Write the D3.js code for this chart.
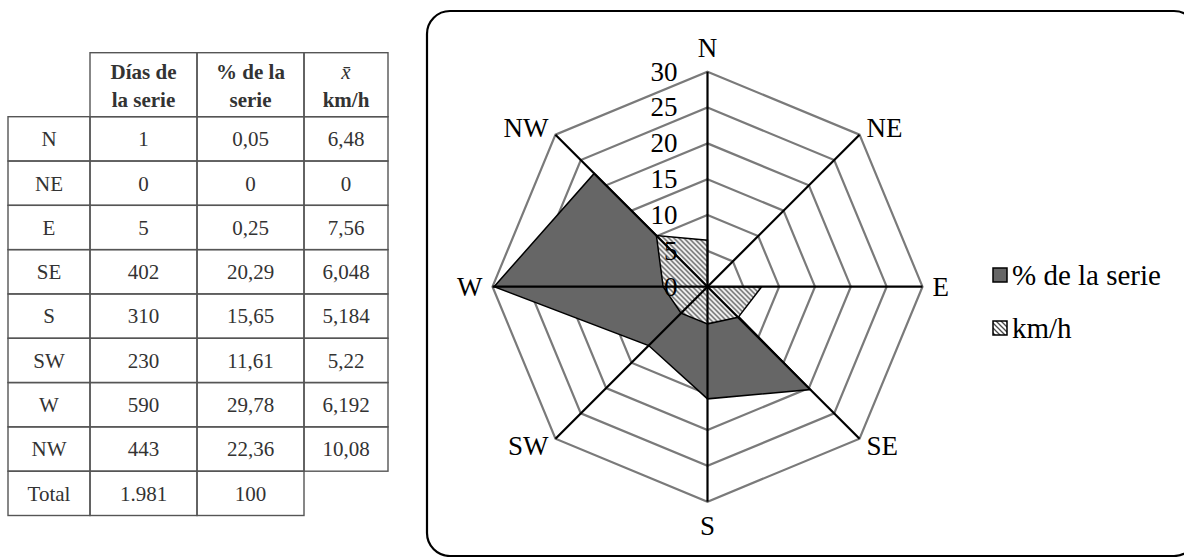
<!DOCTYPE html>
<html>
<head>
<meta charset="utf-8">
<script src="https://cdn.jsdelivr.net/npm/d3@7"></script>
<style>
  body { margin: 0; background: #fff; }
  svg { display: block; }
  text { font-family: "Liberation Serif", "Times New Roman", serif; }
</style>
</head>
<body>
<div id="chart"></div>
<script>
//////////////////////////////////////////////////////////////////////////////
// Data

var directions = ["N", "NE", "E", "SE", "S", "SW", "W", "NW"];
var dias       = [1, 0, 5, 402, 310, 230, 590, 443];
var pctSerie   = [0.05, 0, 0.25, 20.29, 15.65, 11.61, 29.78, 22.36];
var kmh        = [6.48, 0, 7.56, 6.048, 5.184, 5.22, 6.192, 10.08];
var totalRow   = ["Total", "1.981", "100"];
var radialTicks  = [0, 5, 10, 15, 20, 25, 30];
var legendLabels = ["% de la serie", "km/h"];

//////////////////////////////////////////////////////////////////////////////
// Preliminaries

var width = 1184, height = 557;

var svg = d3.select("#chart")
    .append("svg")
    .attr("width", width)
    .attr("height", height);

var defs = svg.append("defs");

defs.append("pattern")
    .attr("id", "hatch")
    .attr("width", 5).attr("height", 5)
    .attr("patternUnits", "userSpaceOnUse")
    .call(function(p) {
        p.append("rect").attr("width", 5).attr("height", 5).attr("fill", "#fff");
        p.append("path")
            .attr("d", "M-1,-1L6,6M4,-1L6,1M-1,4L1,6")
            .attr("stroke", "#4a4a4a")
            .attr("stroke-width", 1.3);
    });

function fmtNum(v) { return String(v).replace(".", ","); }

//////////////////////////////////////////////////////////////////////////////
// Table

var colX = [8, 90, 197, 304, 388];
var headTop = 52.7, headBottom = 116.7, tableBottom = 515.5;

var rowScale = d3.scaleBand()
    .domain(directions.concat(["Total"]))
    .range([headBottom, tableBottom]);

var table = svg.append("g")
    .attr("font-size", 21)
    .attr("fill", "#333");

var cells = [];
[1, 2, 3].forEach(function(c) {
    cells.push({ c: c, y0: headTop, y1: headBottom });
});
directions.forEach(function(d) {
    [0, 1, 2, 3].forEach(function(c) {
        cells.push({ c: c, y0: rowScale(d), y1: rowScale(d) + rowScale.bandwidth() });
    });
});
[0, 1, 2].forEach(function(c) {
    cells.push({ c: c, y0: rowScale("Total"), y1: rowScale("Total") + rowScale.bandwidth() });
});

table.append("g")
    .selectAll("rect")
    .data(cells)
    .enter()
    .append("rect")
    .attr("x", function(d) { return colX[d.c]; })
    .attr("y", function(d) { return d.y0; })
    .attr("width", function(d) { return colX[d.c + 1] - colX[d.c]; })
    .attr("height", function(d) { return d.y1 - d.y0; })
    .attr("fill", "none")
    .attr("stroke", "#555")
    .attr("stroke-width", 1.4);

function colMid(c) { return (colX[c] + colX[c + 1]) / 2; }

// header
var headers = [["Días de", "la serie"], ["% de la", "serie"], ["x\u0304", "km/h"]];
headers.forEach(function(lines, i) {
    lines.forEach(function(t, j) {
        table.append("text")
            .attr("x", colMid(i + 1))
            .attr("y", 72 + j * 28)
            .attr("dy", "0.35em")
            .attr("text-anchor", "middle")
            .attr("font-weight", i === 2 && j === 0 ? "normal" : "bold")
            .attr("font-style", i === 2 && j === 0 ? "italic" : "normal")
            .text(t);
    });
});

// body rows
var rows = directions.map(function(d, i) {
    return [d, String(dias[i]), fmtNum(pctSerie[i]), fmtNum(kmh[i])];
});
rows.push(totalRow);

rows.forEach(function(r) {
    r.forEach(function(t, c) {
        table.append("text")
            .attr("x", colMid(c))
            .attr("y", rowScale(r[0]) + rowScale.bandwidth() / 2)
            .attr("dy", "0.35em")
            .attr("text-anchor", "middle")
            .text(t);
    });
});

//////////////////////////////////////////////////////////////////////////////
// Radar chart

svg.append("rect")
    .attr("x", 427).attr("y", 11)
    .attr("width", 770).attr("height", 545)
    .attr("rx", 23).attr("ry", 23)
    .attr("fill", "none")
    .attr("stroke", "#000")
    .attr("stroke-width", 2.2);

var cx = 707.5, cy = 286.7, R = 215;
var rScale = d3.scaleLinear().domain([0, 30]).range([0, R]);
var step = 2 * Math.PI / directions.length;

var radar = svg.append("g").attr("transform", "translate(" + cx + "," + cy + ")");

var line = d3.lineRadial()
    .angle(function(d, i) { return i * step; })
    .radius(function(d) { return rScale(d); })
    .curve(d3.curveLinearClosed);

// grid octagons
radar.append("g")
    .selectAll("path")
    .data(radialTicks.filter(function(t) { return t > 0; }))
    .enter()
    .append("path")
    .attr("d", function(t) { return line(directions.map(function() { return t; })); })
    .attr("fill", "none")
    .attr("stroke", "#7a7a7a")
    .attr("stroke-width", 2.2);

// series
radar.append("path")
    .attr("d", line(pctSerie))
    .attr("fill", "#666")
    .attr("stroke", "#000")
    .attr("stroke-width", 1.5);

radar.append("path")
    .attr("d", line(kmh))
    .attr("fill", "url(#hatch)")
    .attr("stroke", "#000")
    .attr("stroke-width", 1.5);

// spokes
function px(i, r) { return Math.sin(i * step) * r; }
function py(i, r) { return -Math.cos(i * step) * r; }

radar.append("g")
    .selectAll("line")
    .data(directions)
    .enter()
    .append("line")
    .attr("x1", 0).attr("y1", 0)
    .attr("x2", function(d, i) { return px(i, R); })
    .attr("y2", function(d, i) { return py(i, R); })
    .attr("stroke", "#000")
    .attr("stroke-width", 2.2);

// tick labels
radar.append("g")
    .selectAll("text")
    .data(radialTicks)
    .enter()
    .append("text")
    .attr("x", -30)
    .attr("y", function(t) { return -rScale(t); })
    .attr("dy", "0.33em")
    .attr("text-anchor", "end")
    .attr("font-size", 27)
    .text(function(t) { return t; });

// direction labels
radar.append("g")
    .selectAll("text")
    .data(directions)
    .enter()
    .append("text")
    .attr("x", function(d, i) { return px(i, R) + Math.sin(i * step) * 10; })
    .attr("y", function(d, i) {
        var c = Math.cos(i * step);
        var extra = Math.abs(c) > 0.9 ? 14 : 0;
        return py(i, R) - c * (10 + extra);
    })
    .attr("dy", "0.33em")
    .attr("text-anchor", function(d, i) {
        var s = Math.sin(i * step);
        return s > 0.1 ? "start" : (s < -0.1 ? "end" : "middle");
    })
    .attr("font-size", 27)
    .text(function(d) { return d; });

// legend
var legend = svg.append("g");

var legendY = d3.scalePoint().domain(legendLabels).range([275, 328]);
var legendFill = ["#666", "url(#hatch)"];

legend.selectAll("rect")
    .data(legendLabels)
    .enter()
    .append("rect")
    .attr("x", 993)
    .attr("y", function(d) { return legendY(d) - 7; })
    .attr("width", 14).attr("height", 14)
    .attr("fill", function(d, i) { return legendFill[i]; })
    .attr("stroke", "#000")
    .attr("stroke-width", 1.5);

legend.selectAll("text")
    .data(legendLabels)
    .enter()
    .append("text")
    .attr("x", 1012)
    .attr("y", function(d) { return legendY(d); })
    .attr("dy", "0.33em")
    .attr("font-size", 29)
    .text(function(d) { return d; });
</script>
</body>
</html>
